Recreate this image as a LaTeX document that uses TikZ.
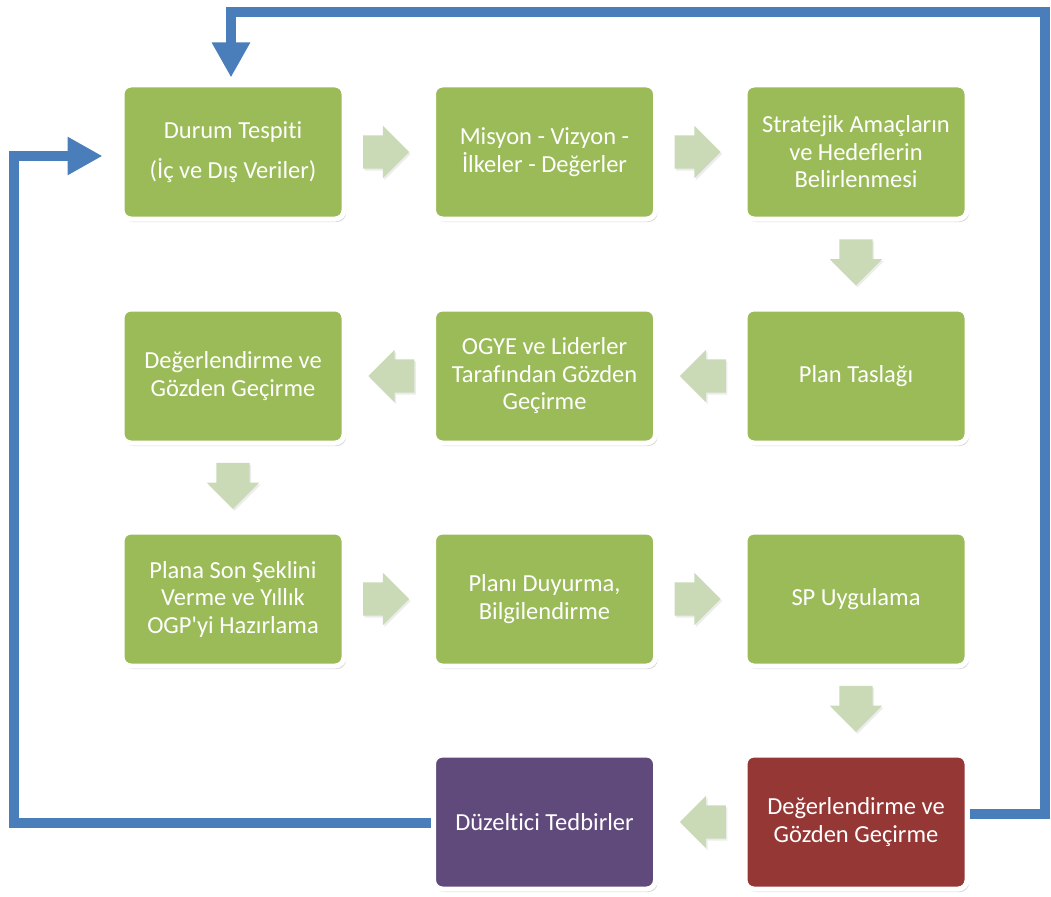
\documentclass[tikz,border=0pt]{standalone}
\usepackage{fontspec}
\setmainfont{Carlito}[Ligatures=NoCommon]
\usetikzlibrary{positioning,calc,shapes.arrows,arrows.meta,shadows,backgrounds}

\definecolor{boxgreen}{HTML}{9BBB59}
\definecolor{boxpurple}{HTML}{604A7B}
\definecolor{boxred}{HTML}{953735}
\definecolor{flowgreen}{HTML}{CADAB6}
\definecolor{loopblue}{HTML}{4A7EBB}

\tikzset{
  stage/.style={rounded corners=9pt, fill=boxgreen, draw=white, line width=5pt,
    minimum width=222pt, minimum height=134pt, text=white, align=center,
    font=\fontsize{24.5}{27.5}\selectfont,
    drop shadow={opacity=.3, shadow xshift=2pt, shadow yshift=-3pt}},
  flow/.style={single arrow, fill=flowgreen, draw=none, inner xsep=0pt, inner ysep=16.5pt,
    minimum height=46pt, single arrow head extend=9.5pt,
    drop shadow={opacity=.15, shadow xshift=1.5pt, shadow yshift=-2pt}},
  loopline/.style={draw=loopblue, line width=10pt, -{Triangle[width=36pt,length=35pt]}}
}

\begin{document}
\begin{tikzpicture}[x=1pt,y=-1pt]
      \useasboundingbox (0,0) rectangle (1051,896);
      % first row
      \node[stage] (durum) at (233,152) {Durum Tespiti\\[12pt](İç ve Dış Veriler)};
      \node[stage] (misyon) at (544.5,152) {Misyon - Vizyon -\\İlkeler - Değerler};
      \node[stage] (amac) at (856,152) {Stratejik Amaçların\\ve Hedeflerin\\Belirlenmesi};
      % second row
      \node[stage] (taslak) at (856,376) {Plan Taslağı};
      \node[stage] (ogye) at (544.5,376) {OGYE ve Liderler\\Tarafından Gözden\\Geçirme};
      \node[stage] (degerlendirme) at (233,376) {Değerlendirme ve\\Gözden Geçirme};
      % third row
      \node[stage] (sonsekil) at (233,599) {Plana Son Şeklini\\Verme ve Yıllık\\OGP\textquotesingle yi Hazırlama};
      \node[stage] (duyurma) at (544.5,599) {Planı Duyurma,\\Bilgilendirme};
      \node[stage] (uygulama) at (856,599) {SP Uygulama};
      % last row
      \node[stage, fill=boxred] (gozden) at (856,822) {Değerlendirme ve\\Gözden Geçirme};
      \node[stage, fill=boxpurple] (duzeltici) at (544.5,822) {Düzeltici Tedbirler};

      \node[flow] (f1) at ($(durum)!.5!(misyon)+(-11,0)$) {};
      \node[flow] (f2) at ($(misyon)!.5!(amac)+(-11,0)$) {};
      \node[flow, rotate=-90] (f3) at ($(amac)!.5!(taslak)+(0,-10)$) {};
      \node[flow, rotate=180] (f4) at ($(taslak)!.5!(ogye)+(11,0)$) {};
      \node[flow, rotate=180] (f5) at ($(ogye)!.5!(degerlendirme)+(11,0)$) {};
      \node[flow, rotate=-90] (f6) at ($(degerlendirme)!.5!(sonsekil)+(0,-10)$) {};
      \node[flow] (f7) at ($(sonsekil)!.5!(duyurma)+(-11,0)$) {};
      \node[flow] (f8) at ($(duyurma)!.5!(uygulama)+(-11,0)$) {};
      \node[flow, rotate=-90] (f9) at ($(uygulama)!.5!(gozden)+(0,-10)$) {};
      \node[flow, rotate=180] (f10) at ($(gozden)!.5!(duzeltici)+(11,0)$) {};

      % feedback loops
      \coordinate (topright) at (1045,12);
      \coordinate (bottomleft) at (14,823);
      \begin{scope}[on background layer]
        \draw[loopline] ([yshift=8pt]gozden.east) -| (topright)
          -| ([xshift=-2pt,yshift=5pt]durum.north);
        \draw[loopline] ([yshift=-1pt]duzeltici.west) -- (bottomleft)
          |- ([xshift=-17pt,yshift=-4pt]durum.west);
      \end{scope}
\end{tikzpicture}
\end{document}
